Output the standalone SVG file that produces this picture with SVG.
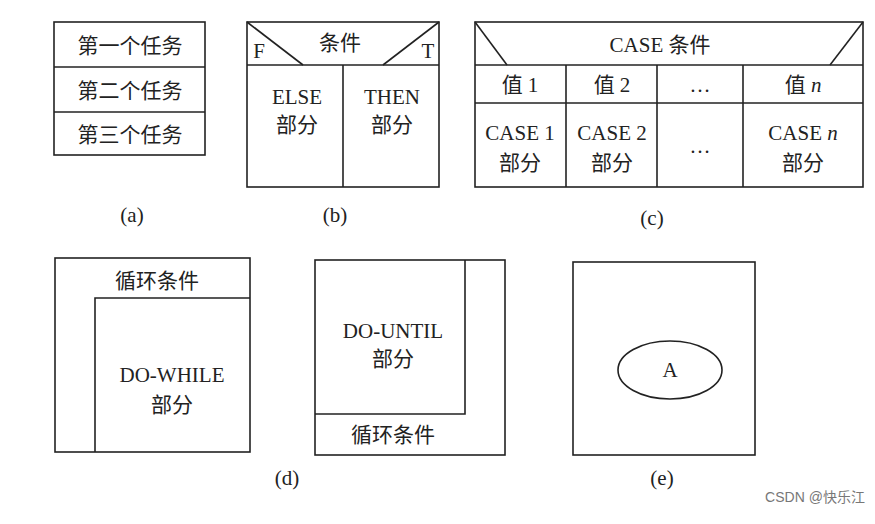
<svg xmlns="http://www.w3.org/2000/svg" width="875" height="524" viewBox="0 0 875 524">
<style>
.s{fill:none;stroke:#222;stroke-width:1.6}
text{font-family:"Liberation Serif","Noto Sans CJK SC",serif;font-size:21px;fill:#222;text-anchor:middle}
.w{font-family:"Liberation Sans","Noto Sans CJK SC",sans-serif;font-size:14px;fill:#777}
</style>
<rect width="875" height="524" fill="#fff"/>
<g id="a">
<rect class="s" x="54" y="22" width="151" height="133"/>
<line class="s" x1="54" y1="67" x2="205" y2="67"/>
<line class="s" x1="54" y1="112" x2="205" y2="112"/>
<text x="130" y="53">第一个任务</text>
<text x="130" y="98">第二个任务</text>
<text x="130" y="142">第三个任务</text>
<text x="132" y="222">(a)</text>
</g>
<g id="b">
<rect class="s" x="247" y="22" width="192" height="165"/>
<line class="s" x1="247" y1="65" x2="439" y2="65"/>
<line class="s" x1="247" y1="22" x2="303" y2="65"/>
<line class="s" x1="439" y1="22" x2="383" y2="65"/>
<line class="s" x1="343" y1="65" x2="343" y2="187"/>
<text x="340" y="50">条件</text>
<text x="259" y="58" font-size="19">F</text>
<text x="428" y="58" font-size="19">T</text>
<text x="297" y="104">ELSE</text>
<text x="297" y="132">部分</text>
<text x="392" y="104">THEN</text>
<text x="392" y="132">部分</text>
<text x="335" y="222">(b)</text>
</g>
<g id="c">
<rect class="s" x="475" y="22" width="388" height="165"/>
<line class="s" x1="475" y1="65" x2="863" y2="65"/>
<line class="s" x1="475" y1="103" x2="863" y2="103"/>
<line class="s" x1="475" y1="22" x2="507" y2="65"/>
<line class="s" x1="863" y1="22" x2="830" y2="65"/>
<line class="s" x1="566" y1="65" x2="566" y2="187"/>
<line class="s" x1="657" y1="65" x2="657" y2="187"/>
<line class="s" x1="743" y1="65" x2="743" y2="187"/>
<text x="660" y="52">CASE 条件</text>
<text x="520" y="92">值 1</text>
<text x="612" y="92">值 2</text>
<text x="700" y="92">…</text>
<text x="803" y="92">值 <tspan font-style="italic">n</tspan></text>
<text x="520" y="140">CASE 1</text>
<text x="520" y="170">部分</text>
<text x="612" y="140">CASE 2</text>
<text x="612" y="170">部分</text>
<text x="700" y="153">…</text>
<text x="803" y="140">CASE <tspan font-style="italic">n</tspan></text>
<text x="803" y="170">部分</text>
<text x="652" y="225">(c)</text>
</g>
<g id="d1">
<rect class="s" x="55" y="258" width="195" height="194"/>
<polyline class="s" points="95,452 95,298 250,298"/>
<text x="157" y="288">循环条件</text>
<text x="172" y="382">DO-WHILE</text>
<text x="172" y="412">部分</text>
</g>
<g id="d2">
<rect class="s" x="315" y="260" width="190" height="195"/>
<polyline class="s" points="315,414 465,414 465,260"/>
<text x="393" y="338">DO-UNTIL</text>
<text x="393" y="366">部分</text>
<text x="393" y="442">循环条件</text>
<text x="287" y="485">(d)</text>
</g>
<g id="e">
<rect class="s" x="573" y="262" width="182" height="193"/>
<ellipse class="s" cx="670" cy="370" rx="52" ry="29"/>
<text x="670" y="377" font-size="19">A</text>
<text x="662" y="485">(e)</text>
</g>
<text class="w" x="815" y="502">CSDN @快乐江</text>
</svg>
